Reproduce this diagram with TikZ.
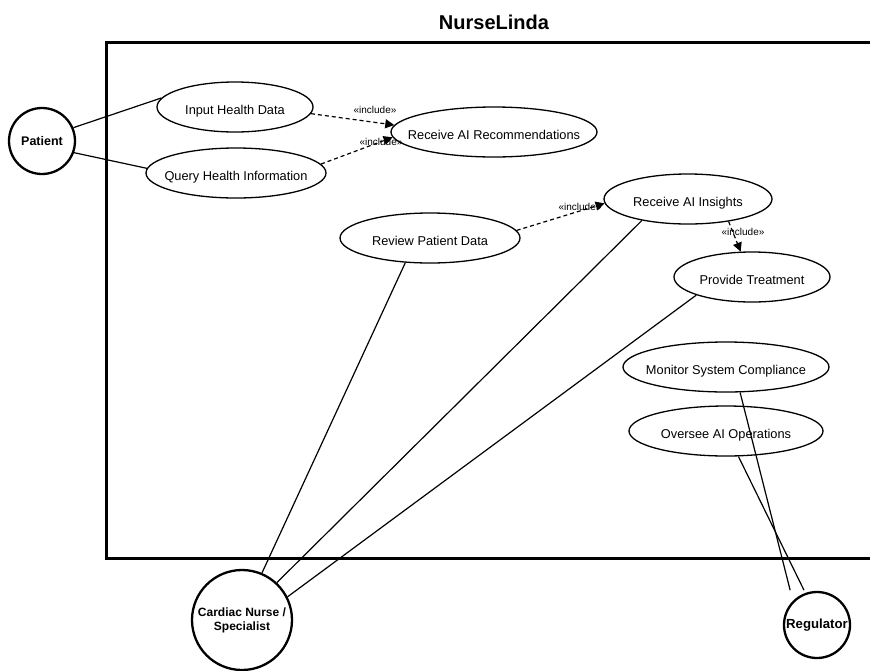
\documentclass[tikz,border=0pt]{standalone}
\usepackage{fontspec}
\setmainfont{Liberation Sans}
\usetikzlibrary{arrows.meta,shapes.geometric}
\begin{document}
\begin{tikzpicture}[x=1pt,y=-1pt,
 uc/.style={draw, ellipse, line width=1.3pt, inner sep=0pt, text height=14pt, text depth=0pt, font=\fontsize{12.8}{15}\selectfont},
 actor/.style={draw, circle, line width=2.3pt, inner sep=0pt, align=center, font=\fontsize{12.5}{14}\selectfont\bfseries},
 assoc/.style={line width=1.2pt},
 incl/.style={line width=1.2pt, dash pattern=on 4pt off 3pt, -{Triangle[length=9pt,width=9pt]}},
 lbl/.style={font=\fontsize{10}{12}\selectfont, inner sep=0pt}]
\useasboundingbox (0,0) rectangle (870,670);
\fill[white] (0,0) rectangle (870,670);
\node[font=\fontsize{20}{22}\selectfont\bfseries] (title) at (494,22) {NurseLinda};
\draw[line width=3pt] (106,42) rectangle (873,558);
% actors
\node[actor, minimum size=66pt] (patient) at (42,141) {Patient};
\node[actor, minimum size=100pt, font=\fontsize{12}{14}\selectfont\bfseries] (nurse) at (242,620) {Cardiac Nurse /\\Specialist};
\node[actor, minimum size=66pt, font=\fontsize{13.2}{15}\selectfont\bfseries] (reg) at (817,625) {\makebox[0pt]{Regulator}};
% use cases
\node[uc, minimum width=156pt, minimum height=50pt] (input) at (235,107) {\makebox[0pt]{Input Health Data}};
\node[uc, minimum width=180pt, minimum height=50pt] (query) at (236,173) {\makebox[0pt]{Query Health Information}};
\node[uc, minimum width=206pt, minimum height=50pt] (recrec) at (494,132) {\makebox[0pt]{Receive AI Recommendations}};
\node[uc, minimum width=168pt, minimum height=50pt] (insights) at (688,199) {\makebox[0pt]{Receive AI Insights}};
\node[uc, minimum width=180pt, minimum height=50pt] (review) at (430,238) {\makebox[0pt]{Review Patient Data}};
\node[uc, minimum width=156pt, minimum height=50pt] (treat) at (752,277) {\makebox[0pt]{Provide Treatment}};
\node[uc, minimum width=206pt, minimum height=50pt] (monitor) at (726,367) {\makebox[0pt]{Monitor System Compliance}};
\node[uc, minimum width=194pt, minimum height=50pt] (oversee) at (726,431) {\makebox[0pt]{Oversee AI Operations}};
% associations
\draw[assoc] (patient.23) -- (input.173);
\draw[assoc] (patient.-20) -- (query.177);
\draw[assoc] (nurse.67) -- (review.225);
\draw[assoc] (nurse.47) -- (insights.205);
\draw[assoc] (nurse.27) -- (treat.198);
\draw[assoc, shorten >=11pt] (monitor.-61) -- (reg.135);
\draw[assoc, shorten >=3pt] (oversee.-64) -- (reg.110);
% includes
\draw[incl] (input.-5) -- (recrec.176);
\draw[incl] (query.6) -- (recrec.183);
\draw[incl] (review.5) -- (insights.183);
\draw[incl] (insights.-29) -- (treat.114);
\node[lbl] (l1) at (375,110) {«include»};
\node[lbl] (l2) at (381,142) {«include»};
\node[lbl] (l3) at (580,207) {«include»};
\node[lbl] (l4) at (743,232) {«include»};
\end{tikzpicture}
\end{document}
